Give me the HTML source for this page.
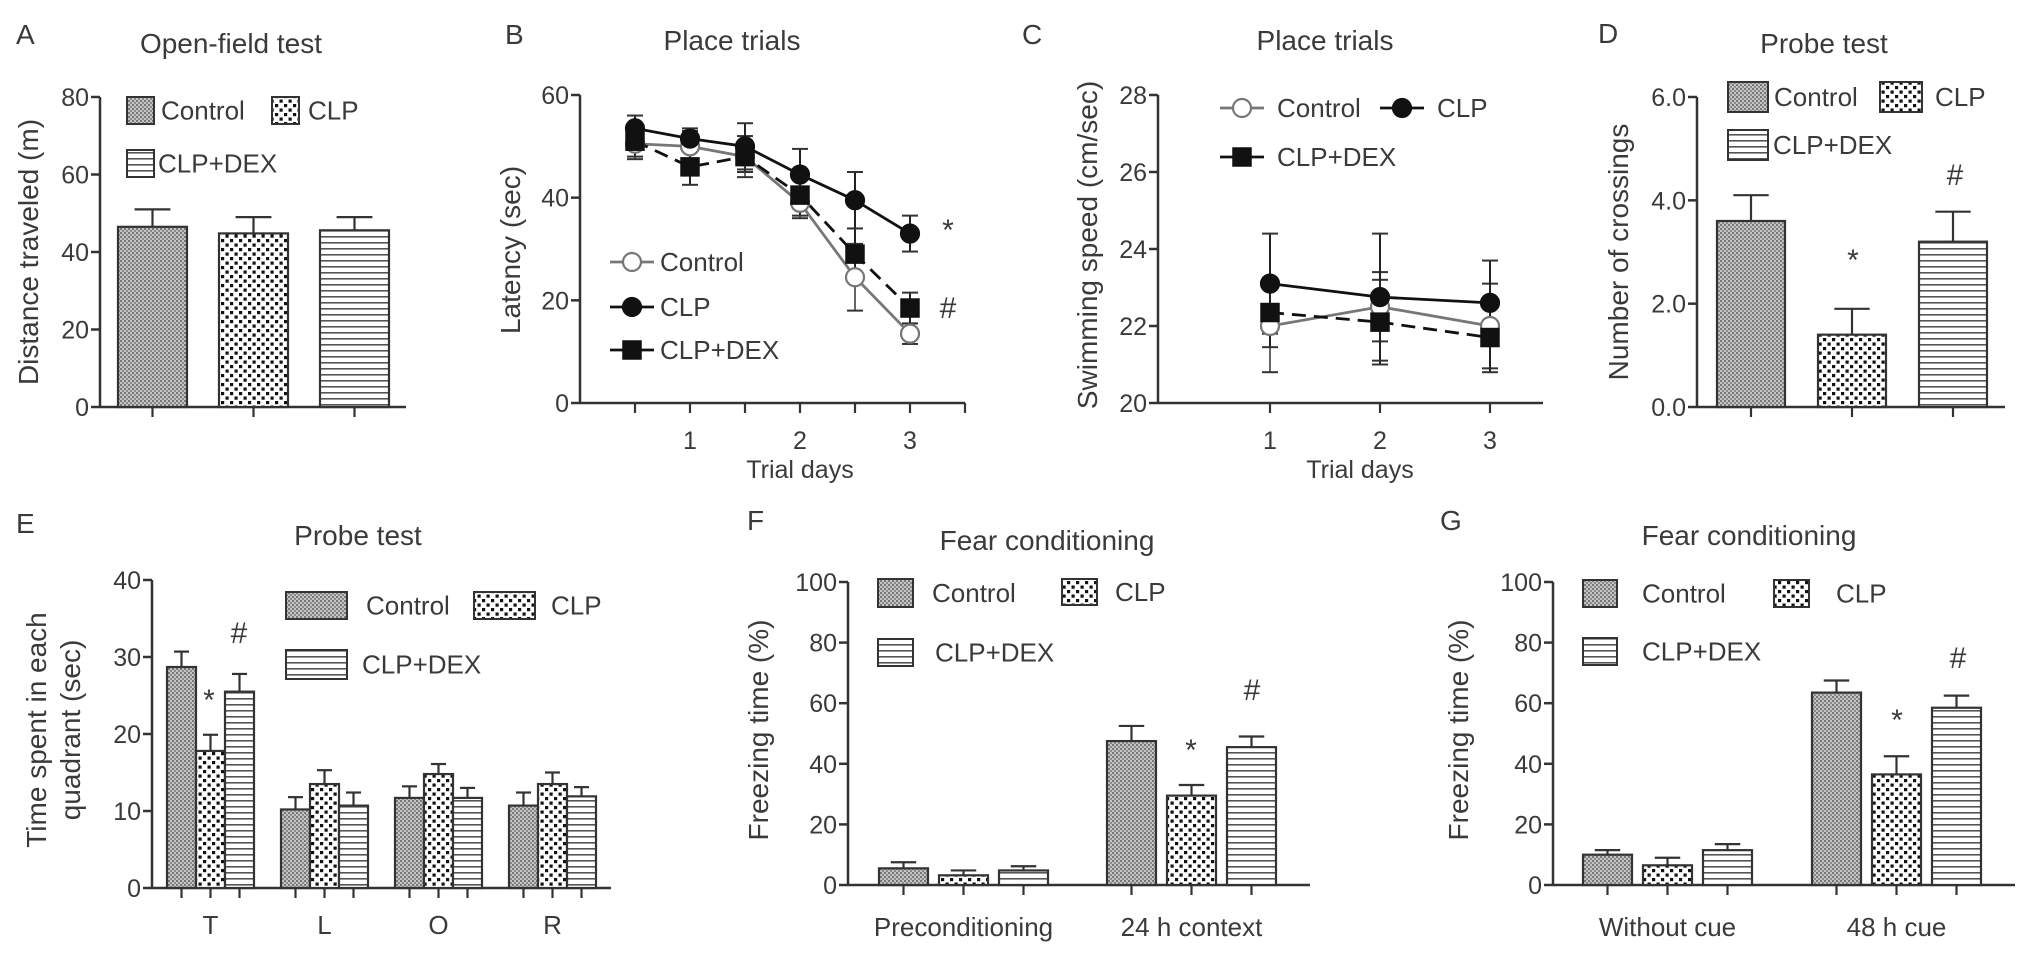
<!DOCTYPE html>
<html><head><meta charset="utf-8">
<style>
html,body{margin:0;padding:0;background:#fff;}
svg{display:block;}
text{font-family:"Liberation Sans",Arial,sans-serif;fill:#3a3a3a;}
</style></head>
<body>
<svg id="fig" width="2031" height="958" viewBox="0 0 2031 958" xmlns="http://www.w3.org/2000/svg">
<defs>
<pattern id="pCtrl" width="4" height="4" patternUnits="userSpaceOnUse">
<rect width="4" height="4" fill="#c4c4c4"/><rect x="0" y="0" width="2" height="2" fill="#777"/><rect x="2" y="2" width="2" height="2" fill="#8a8a8a"/>
</pattern>
<pattern id="pClp" width="9" height="9" patternUnits="userSpaceOnUse">
<rect width="9" height="9" fill="#fff"/><rect x="0.5" y="0.5" width="3.2" height="3.2" fill="#111"/><rect x="5" y="5" width="3.2" height="3.2" fill="#111"/>
</pattern>
<pattern id="pDex" width="6" height="6" patternUnits="userSpaceOnUse">
<rect width="6" height="6" fill="#fff"/><rect x="0" y="2" width="6" height="1.6" fill="#555"/>
</pattern>
</defs>
</svg>
<script>
// ---- data ----
const seriesNames = ["Control","CLP","CLP+DEX"];
const aValues = [46.5, 44.8, 45.6];
const aErrors = [4.5, 4.2, 3.4];
const aTicks = [0,20,40,60,80];
const dValues = [3.6, 1.4, 3.2];
const dErrors = [0.5, 0.5, 0.58];
const dTicks = ["0.0","2.0","4.0","6.0"];
const eCategories = ["T","L","O","R"];
const eControl = [28.7, 10.2, 11.7, 10.7];
const eClp = [17.8, 13.5, 14.8, 13.5];
const eDex = [25.5, 10.7, 11.7, 11.9];
const eControlErr = [2.0, 1.6, 1.5, 1.7];
const eClpErr = [2.1, 1.8, 1.3, 1.5];
const eDexErr = [2.3, 1.7, 1.3, 1.2];
const eTicks = [0,10,20,30,40];
const fCategories = ["Preconditioning","24 h context"];
const fControl = [5.5, 47.5];
const fClp = [3.2, 29.5];
const fDex = [4.8, 45.5];
const fControlErr = [2.0, 5.0];
const fClpErr = [1.6, 3.5];
const fDexErr = [1.4, 3.5];
const gCategories = ["Without cue","48 h cue"];
const gControl = [10, 63.5];
const gClp = [6.5, 36.5];
const gDex = [11.5, 58.5];
const gControlErr = [1.5, 4.0];
const gClpErr = [2.5, 6.0];
const gDexErr = [2.0, 4.0];
const fgTicks = [0,20,40,60,80,100];
const bDays = [0.5, 1, 1.5, 2, 2.5, 3];
const bControl = [50.5, 50, 48, 39, 24.5, 13.5];
const bClp = [53.5, 51.5, 50, 44.5, 39.5, 33];
const bDex = [51, 46, 48, 40.5, 29, 18.5];
const bControlErr = [3, 3, 4, 3, 6.5, 2];
const bClpErr = [2.5, 2, 4.5, 5, 5.5, 3.5];
const bDexErr = [3, 3.5, 3, 4, 5, 3];
const bTicks = [0,20,40,60];
const cDays = [1, 2, 3];
const cControl = [22.0, 22.5, 22.0];
const cClp = [23.1, 22.75, 22.6];
const cDex = [22.35, 22.1, 21.7];
const cControlErr = [1.2, 0.9, 1.1];
const cClpErr = [1.3, 1.65, 1.1];
const cDexErr = [0.9, 1.1, 0.9];
const cTicks = [20,22,24,26,28];

const NS="http://www.w3.org/2000/svg";
const svg=document.getElementById('fig');
const fills=["url(#pCtrl)","url(#pClp)","url(#pDex)"];
function mk(tag,attrs,parent){const e=document.createElementNS(NS,tag);for(const k in attrs)e.setAttribute(k,attrs[k]);(parent||svg).appendChild(e);return e;}
function txt(s,x,y,size,anchor,parent){const t=mk('text',{x:x,y:y,'font-size':size,'text-anchor':anchor||'start'},parent);t.textContent=s;return t;}
function line(x1,y1,x2,y2,parent,w,col,dash){const l=mk('line',{x1:x1,y1:y1,x2:x2,y2:y2,stroke:col||'#333','stroke-width':w||2.5},parent);if(dash)l.setAttribute('stroke-dasharray',dash);return l;}

function yAxis(g,ax,yB,yT,vmin,vmax,ticks,labels,xEnd){
  const sy=v=>yB-(v-vmin)/(vmax-vmin)*(yB-yT);
  const yl=line(ax,yT,ax,yB,g);
  
  const xl=line(ax,yB,xEnd,yB,g);
  
  ticks.forEach((v,i)=>{line(ax-9,sy(v),ax,sy(v),g);
    const t=txt(labels?labels[i]:String(v),ax-11,sy(v)+9,25,'end',g);
    });
  return sy;
}
function legendBars(g,entries){
  entries.forEach(en=>{
    const r=mk('rect',{x:en.x,y:en.y,width:en.w,height:en.h,fill:fills[en.s],stroke:'#333','stroke-width':2},g);
    
    const t=txt(seriesNames[en.s],en.tx,en.y+en.h/2+9,26,'start',g);
    
  });
}
function bar(g,x,w,sy,v,err,s,yB){
  const r=mk('rect',{x:x,y:sy(v),width:w,height:yB-sy(v),fill:fills[s],stroke:'#333','stroke-width':2.2},g);
  
  
  const cx=x+w/2,cw=w*0.26;
  line(cx,sy(v),cx,sy(v+err),g,2.2);
  line(cx-cw,sy(v+err),cx+cw,sy(v+err),g,2.2);
  line(cx,yB,cx,yB+10,g,2.2);
}
function panelG(name){const g=mk('g',{});return g;}
function rotLabel(g,s,x,y,name){const t=txt(s,0,0,28,'middle',g);t.setAttribute('transform','translate('+x+','+y+') rotate(-90)');return t;}
function title(g,s,x,y){const t=txt(s,x,y,28,'middle',g);}
function letter(g,s,x,y){const t=txt(s,x,y,28,'start',g);}
function mark(g,s,x,y){const t=txt(s,x,y,30,'middle',g);}

// ---- Panel A ----
(function(){const g=panelG('panel-a');
letter(g,'A',16,44);title(g,'Open-field test',231,53);
const sy=yAxis(g,100,407,97,0,80,aTicks,null,406);
aValues.forEach((v,i)=>bar(g,118+i*101,69,sy,v,aErrors[i],i,407));
rotLabel(g,'Distance traveled (m)',38,252,'y-axis-title');
legendBars(g,[{s:0,x:127,y:97,w:27,h:27,tx:161},{s:1,x:272,y:97,w:27,h:27,tx:308},{s:2,x:127,y:150,w:27,h:27,tx:158}]);
})();

// ---- Panel D ----
(function(){const g=panelG('panel-d');
letter(g,'D',1598,43);title(g,'Probe test',1824,53);
const sy=yAxis(g,1697,407,97,0,6,[0,2,4,6],dTicks,2005);
dValues.forEach((v,i)=>bar(g,1717+i*101,68,sy,v,dErrors[i],i,407));
rotLabel(g,'Number of crossings',1628,252,'y-axis-title');
legendBars(g,[{s:0,x:1728,y:82,w:40,h:30,tx:1774},{s:1,x:1880,y:82,w:42,h:30,tx:1935},{s:2,x:1728,y:130,w:40,h:30,tx:1773}]);
mark(g,'*',1853,270);mark(g,'#',1955,185);
})();

// ---- Panel E ----
(function(){const g=panelG('panel-e');
letter(g,'E',16,533);title(g,'Probe test',358,545);
const sy=yAxis(g,152,888,580,0,40,eTicks,null,611);
const sets=[[eControl,eControlErr],[eClp,eClpErr],[eDex,eDexErr]];
eCategories.forEach((c,gi)=>{
  sets.forEach((st,s)=>bar(g,167+gi*114+s*29,29,sy,st[0][gi],st[1][gi],s,888));
  const t=txt(c,167+gi*114+43.5,934,26,'middle',g);
});
const t1=txt('Time spent in each',0,0,28,'middle',g);t1.setAttribute('transform','translate(46,730) rotate(-90)');
const t2=txt('quadrant (sec)',0,0,28,'middle',g);t2.setAttribute('transform','translate(80,730) rotate(-90)');
legendBars(g,[{s:0,x:286,y:592,w:61,h:27,tx:366},{s:1,x:474,y:592,w:61,h:27,tx:551},{s:2,x:286,y:650,w:61,h:29,tx:362}]);
mark(g,'*',209,710);mark(g,'#',239,643);
})();

// ---- Panel F ----
(function(){const g=panelG('panel-f');
letter(g,'F',747,530);title(g,'Fear conditioning',1047,550);
const sy=yAxis(g,848,885,582,0,100,fgTicks,null,1310);
const sets=[[fControl,fControlErr],[fClp,fClpErr],[fDex,fDexErr]];
fCategories.forEach((c,gi)=>{
  sets.forEach((st,s)=>bar(g,879+gi*228+s*60,49,sy,st[0][gi],st[1][gi],s,885));
  const t=txt(c,879+gi*228+84.5,936,26,'middle',g);
});
rotLabel(g,'Freezing time (%)',768,730,'y-axis-title');
legendBars(g,[{s:0,x:878,y:579,w:35,h:28,tx:932},{s:1,x:1062,y:579,w:35,h:26,tx:1115},{s:2,x:878,y:639,w:35,h:27,tx:935}]);
mark(g,'*',1191,760);mark(g,'#',1252,700);
})();

// ---- Panel G ----
(function(){const g=panelG('panel-g');
letter(g,'G',1440,530);title(g,'Fear conditioning',1749,545);
const sy=yAxis(g,1553,885,582,0,100,fgTicks,null,2015);
const sets=[[gControl,gControlErr],[gClp,gClpErr],[gDex,gDexErr]];
gCategories.forEach((c,gi)=>{
  sets.forEach((st,s)=>bar(g,1583+gi*229+s*60,49,sy,st[0][gi],st[1][gi],s,885));
  const t=txt(c,1583+gi*229+84.5,936,26,'middle',g);
});
rotLabel(g,'Freezing time (%)',1468,730,'y-axis-title');
legendBars(g,[{s:0,x:1583,y:580,w:34,h:27,tx:1642},{s:1,x:1774,y:580,w:35,h:27,tx:1836},{s:2,x:1583,y:638,w:34,h:27,tx:1642}]);
mark(g,'*',1897,730);mark(g,'#',1958,668);
})();

// ---- line panels ----
const styles=[{col:'#777',fill:'#fff',shape:'circle',dash:null},{col:'#111',fill:'#111',shape:'circle',dash:null},{col:'#111',fill:'#111',shape:'square',dash:'14,8'}];
function marker(g,x,y,s){
  const st=styles[s];let m;
  if(st.shape==='circle')m=mk('circle',{cx:x,cy:y,r:9,fill:st.fill,stroke:st.col,'stroke-width':2.2},g);
  else m=mk('rect',{x:x-9,y:y-9,width:18,height:18,fill:st.fill,stroke:st.col,'stroke-width':1.5},g);
  
  
}
function series(g,days,vals,errs,s,sx,sy){
  const st=styles[s];
  const pts=days.map((d,i)=>sx(d)+','+sy(vals[i])).join(' ');
  const pl=mk('polyline',{points:pts,fill:'none',stroke:st.col,'stroke-width':2.8},g);
  if(st.dash)pl.setAttribute('stroke-dasharray',st.dash);
  
  
  days.forEach((d,i)=>{const x=sx(d);
    line(x,sy(vals[i]-errs[i]),x,sy(vals[i]+errs[i]),g,2,st.col==='#777'?'#666':'#222');
    line(x-8,sy(vals[i]+errs[i]),x+8,sy(vals[i]+errs[i]),g,2,'#333');
    line(x-8,sy(vals[i]-errs[i]),x+8,sy(vals[i]-errs[i]),g,2,'#333');});
  return ()=>days.forEach((d,i)=>marker(g,sx(d),sy(vals[i]),s));
}
function lineLegend(g,s,x,y,tx){
  const st=styles[s];line(x-22,y,x+22,y,g,2.8,st.col);marker(g,x,y,s);
  const t=txt(seriesNames[s],tx,y+9,26,'start',g);
}

// Panel B
(function(){const g=panelG('panel-b');
letter(g,'B',505,44);title(g,'Place trials',732,50);
const sy=yAxis(g,580,403,95,0,60,bTicks,null,965);
const sx=d=>580+110*d;
[0.5,1,1.5,2,2.5,3,3.5].forEach(d=>line(sx(d),403,sx(d),413,g,2.2));
[1,2,3].forEach(d=>{const t=txt(String(d),sx(d),449,25,'middle',g);});
const xt=txt('Trial days',sx(2),478,25,'middle',g);
rotLabel(g,'Latency (sec)',520,250,'y-axis-title');
const m0=series(g,bDays,bControl,bControlErr,0,sx,sy);
const m2=series(g,bDays,bDex,bDexErr,2,sx,sy);
const m1=series(g,bDays,bClp,bClpErr,1,sx,sy);
m0();m2();m1();
lineLegend(g,0,632,262,660);lineLegend(g,1,632,307,660);lineLegend(g,2,632,350,660);
mark(g,'*',948,240);mark(g,'#',948,318);
})();

// Panel C
(function(){const g=panelG('panel-c');
letter(g,'C',1022,44);title(g,'Place trials',1325,50);
const sy=yAxis(g,1158,403,95,20,28,cTicks,null,1543);
const sx=d=>1160+110*d;
[1,2,3].forEach(d=>{line(sx(d),403,sx(d),413,g,2.2);const t=txt(String(d),sx(d),449,25,'middle',g);});
const xt=txt('Trial days',1360,478,25,'middle',g);
rotLabel(g,'Swimming speed (cm/sec)',1097,245,'y-axis-title');
const m0=series(g,cDays,cControl,cControlErr,0,sx,sy);
const m2=series(g,cDays,cDex,cDexErr,2,sx,sy);
const m1=series(g,cDays,cClp,cClpErr,1,sx,sy);
m0();m2();m1();
lineLegend(g,0,1242,108,1277);lineLegend(g,1,1402,108,1437);lineLegend(g,2,1242,157,1277);
})();
</script>
</body></html>
